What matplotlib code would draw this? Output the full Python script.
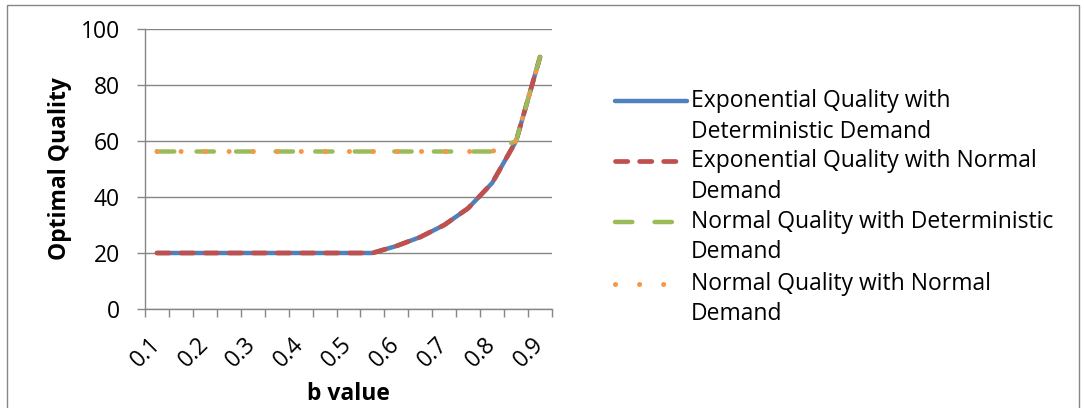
import matplotlib
matplotlib.use("Agg")
import matplotlib.pyplot as plt
from matplotlib.lines import Line2D
from matplotlib.patches import Rectangle

# b values (category axis), only every other one gets a label
b_values = ["0.1", "0.15", "0.2", "0.25", "0.3", "0.35", "0.4", "0.45", "0.5",
            "0.55", "0.6", "0.65", "0.7", "0.75", "0.8", "0.85", "0.9"]

exp_det = [20, 20, 20, 20, 20, 20, 20, 20, 20, 20, 22.5, 25.7, 30, 36, 45, 60, 90]
exp_norm = [20, 20, 20, 20, 20, 20, 20, 20, 20, 20, 22.5, 25.7, 30, 36, 45, 60, 90]
norm_det = [56.25, 56.25, 56.25, 56.25, 56.25, 56.25, 56.25, 56.25, 56.25,
            56.25, 56.25, 56.25, 56.25, 56.25, 56.25, 60, 90]
norm_norm = [56.25, 56.25, 56.25, 56.25, 56.25, 56.25, 56.25, 56.25, 56.25,
             56.25, 56.25, 56.25, 56.25, 56.25, 56.25, 60, 90]

labels = ["Exponential Quality with\nDeterministic Demand",
          "Exponential Quality with Normal\nDemand",
          "Normal Quality with Deterministic\nDemand",
          "Normal Quality with Normal\nDemand"]

plt.rcParams['font.family'] = ['Open Sans', 'DejaVu Sans']
FS = 16.5
GRAY = "#868686"

W, H = 1084, 408
fig = plt.figure(figsize=(W / 100, H / 100), dpi=100)

ax = fig.add_axes([145 / W, 1 - 309 / H, (552 - 145) / W, (309 - 29) / H])

x = list(range(len(b_values)))

# series styles (Excel 2007 palette)
styles = [
    dict(color="#4F81BD", lw=3.2, ls="-", solid_capstyle="round"),
    dict(color="#C0504D", lw=3.4, ls=(0, (2.6, 2.5)), dash_capstyle="round"),
    dict(color="#9BBB59", lw=3.2, ls=(0, (3.9, 5.0)), dash_capstyle="round"),
    dict(color="#F79646", lw=3.6, ls=(0, (0.01, 4.8)), dash_capstyle="round"),
]
series = [exp_det, exp_norm, norm_det, norm_norm]

for vals, st in zip(series, styles):
    ax.plot(x, vals, **st)

ax.set_xlim(-0.5, len(b_values) - 0.5)
ax.set_ylim(0, 100)
ax.set_yticks(range(0, 101, 20))
ax.grid(axis="y", color=GRAY, lw=1.0)
ax.set_axisbelow(True)

for s in ["top", "right"]:
    ax.spines[s].set_visible(False)
for s in ["left", "bottom"]:
    ax.spines[s].set_color(GRAY)
    ax.spines[s].set_linewidth(1.0)

# major ticks on category boundaries, labels on centers
ax.set_xticks([i - 0.5 for i in range(len(b_values) + 1)])
ax.set_xticklabels([])
ax.set_xticks(x, minor=True)
ax.set_xticklabels([lab if i % 2 == 0 else "" for i, lab in enumerate(b_values)],
                   minor=True, rotation=45, ha="right", va="center",
                   rotation_mode="anchor", fontsize=FS)
ax.tick_params(axis="x", which="major", length=5.5, color=GRAY, width=1.0)
ax.tick_params(axis="x", which="minor", length=0, pad=23)
ax.tick_params(axis="y", length=6, color=GRAY, width=1.0, labelsize=FS, pad=12)

ax.set_xlabel("b value", fontsize=FS, fontweight="bold", labelpad=7)
ax.set_ylabel("Optimal Quality", fontsize=FS, fontweight="bold", labelpad=6)

# legend drawn by hand so the key sits on the first text line
x0, x1, tx = 615 / W, 687 / W, 691 / W
rows = [101, 161, 222, 284]
for lab, st, yy in zip(labels, styles, rows):
    yf = 1 - yy / H
    fig.add_artist(Line2D([x0, x1], [yf, yf], transform=fig.transFigure, **st))
    first, second = lab.split("\n")
    fig.text(tx, yf, first, fontsize=FS, va="center", ha="left")
    fig.text(tx, 1 - (yy + 30.5) / H, second, fontsize=FS, va="center", ha="left")

# chart area border
fig.add_artist(Rectangle((7 / W, -0.05), (1079 - 7) / W, 1 - 5 / H + 0.05,
                         transform=fig.transFigure, fill=False,
                         edgecolor=GRAY, lw=1.0))

fig.savefig("out.png", dpi=100)
